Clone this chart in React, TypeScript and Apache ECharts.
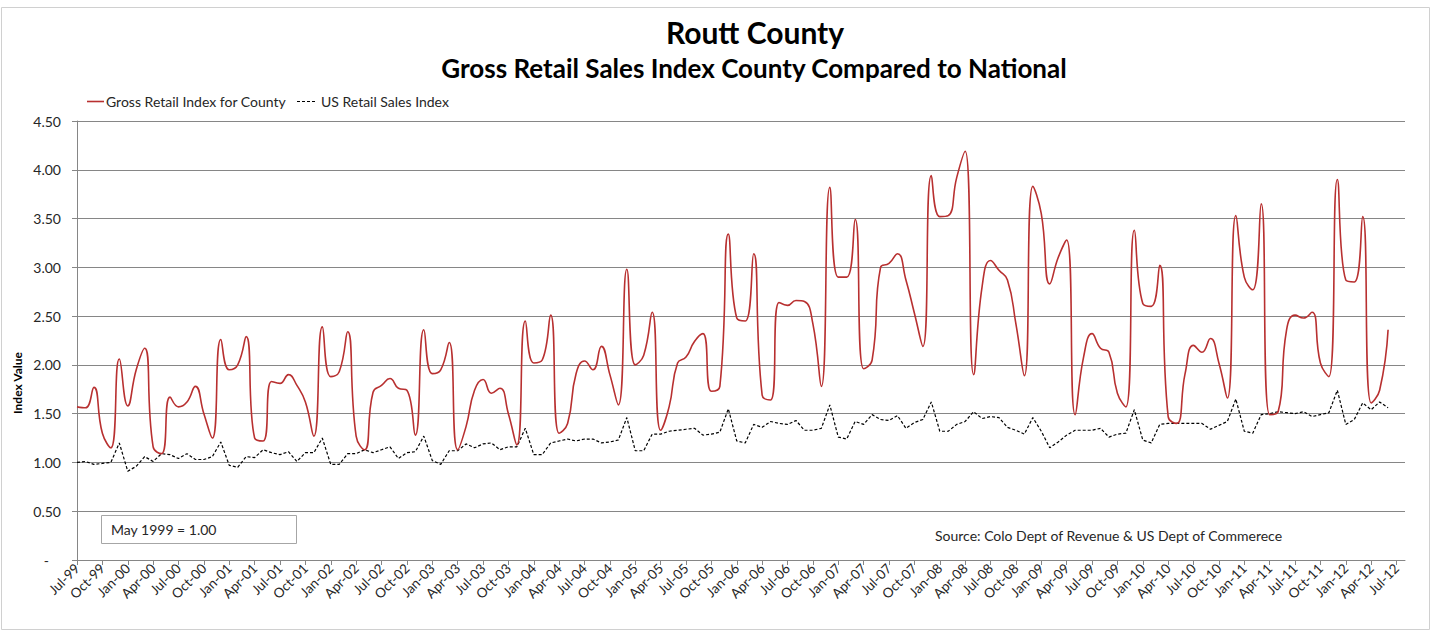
import { useEffect, useRef } from "react";
import * as echarts from "echarts";

const TITLE = "Routt County";
const SUBTITLE = "Gross Retail Sales Index County Compared to National";
const SERIES_COUNTY = "Gross Retail Index for County";
const SERIES_US = "US Retail Sales Index";
const NOTE = "May 1999 = 1.00";
const SOURCE = "Source: Colo Dept of Revenue & US Dept of Commerece";

const MONTHS = ["Jan", "Feb", "Mar", "Apr", "May", "Jun", "Jul", "Aug", "Sep", "Oct", "Nov", "Dec"];
// monthly categories Jul-99 .. Aug-12
const categories: string[] = [];
for (let k = 0; k < 158; k++) {
  const m = (6 + k) % 12;
  const y = 1999 + Math.floor((6 + k) / 12);
  categories.push(`${MONTHS[m]}-${String(y % 100).padStart(2, "0")}`);
}

const countyIndex = [
  1.57, 1.56, 1.77, 1.30, 1.15, 2.06, 1.58, 1.95, 2.17, 1.16, 1.09, 1.67,
  1.57, 1.62, 1.78, 1.50, 1.25, 2.26, 1.95, 2.00, 2.29, 1.25, 1.22, 1.83,
  1.81, 1.90, 1.79, 1.62, 1.27, 2.39, 1.88, 1.93, 2.34, 1.27, 1.13, 1.72,
  1.79, 1.86, 1.76, 1.74, 1.28, 2.36, 1.91, 1.95, 2.23, 1.13, 1.37, 1.74,
  1.85, 1.71, 1.76, 1.50, 1.18, 2.45, 2.02, 2.05, 2.51, 1.30, 1.40, 1.91,
  2.04, 1.95, 2.19, 1.90, 1.59, 2.98, 2.00, 2.10, 2.54, 1.33, 1.57, 2.02,
  2.08, 2.24, 2.32, 1.73, 1.78, 3.34, 2.48, 2.45, 3.14, 1.69, 1.64, 2.64,
  2.61, 2.66, 2.65, 2.42, 1.78, 3.82, 2.90, 2.90, 3.49, 1.96, 2.05, 3.00,
  3.04, 3.14, 2.87, 2.53, 2.19, 3.94, 3.52, 3.53, 3.92, 4.19, 1.90, 2.80,
  3.07, 2.97, 2.87, 2.42, 1.89, 3.83, 3.55, 2.83, 3.10, 3.28, 1.49, 2.08,
  2.32, 2.17, 2.13, 1.71, 1.57, 3.38, 2.63, 2.60, 3.02, 1.47, 1.40, 1.91,
  2.20, 2.13, 2.27, 2.02, 1.66, 3.53, 2.90, 2.77, 3.65, 1.49, 1.52, 2.36,
  2.51, 2.48, 2.54, 2.02, 1.88, 3.90, 2.87, 2.85, 3.52, 1.61, 1.74, 2.36,
];

const usIndex = [
  1.00, 1.01, 0.98, 0.99, 1.00, 1.20, 0.91, 0.96, 1.06, 1.01, 1.09, 1.08,
  1.04, 1.09, 1.03, 1.03, 1.06, 1.21, 0.97, 0.95, 1.06, 1.05, 1.13, 1.10,
  1.08, 1.11, 1.01, 1.10, 1.10, 1.25, 0.98, 0.98, 1.09, 1.09, 1.13, 1.10,
  1.13, 1.16, 1.04, 1.10, 1.11, 1.27, 1.02, 0.98, 1.12, 1.12, 1.19, 1.15,
  1.19, 1.20, 1.13, 1.16, 1.16, 1.35, 1.08, 1.08, 1.20, 1.22, 1.24, 1.22,
  1.24, 1.24, 1.20, 1.21, 1.23, 1.46, 1.12, 1.12, 1.29, 1.29, 1.32, 1.33,
  1.34, 1.35, 1.28, 1.29, 1.31, 1.55, 1.22, 1.20, 1.39, 1.36, 1.42, 1.40,
  1.39, 1.43, 1.33, 1.33, 1.35, 1.59, 1.26, 1.24, 1.42, 1.39, 1.49, 1.44,
  1.43, 1.48, 1.35, 1.41, 1.44, 1.62, 1.32, 1.32, 1.39, 1.42, 1.52, 1.45,
  1.47, 1.46, 1.36, 1.33, 1.29, 1.46, 1.32, 1.15, 1.21, 1.28, 1.33, 1.33,
  1.33, 1.35, 1.26, 1.29, 1.30, 1.54, 1.23, 1.20, 1.39, 1.40, 1.40, 1.40,
  1.40, 1.40, 1.34, 1.38, 1.42, 1.65, 1.32, 1.30, 1.49, 1.50, 1.52, 1.51,
  1.50, 1.52, 1.47, 1.49, 1.51, 1.74, 1.39, 1.44, 1.61, 1.54, 1.62, 1.56,
];

const Y_MIN = 0;
const Y_MAX = 4.5;
const Y_STEP = 0.5;

const FONT = "Lato, 'Open Sans', sans-serif";
const RED = "#b83030";
const TXT = "#262626";
const SMALL = 14;

export default function App() {
  const ref = useRef<HTMLDivElement>(null);

  useEffect(() => {
    if (!ref.current) return;
    const chart = echarts.init(ref.current, undefined, { renderer: "svg" });
    const every3 = (i: number) => i % 3 === 0;
    chart.setOption({
      animation: false,
      backgroundColor: "#ffffff",
      textStyle: { fontFamily: FONT },
      grid: { left: 77, right: 34, top: 121, bottom: 81, containLabel: false },
      xAxis: {
        type: "category",
        data: categories,
        boundaryGap: false,
        axisLine: { lineStyle: { color: "#868686", width: 1 } },
        axisTick: { show: true, interval: every3, length: 5, lineStyle: { color: "#868686" } },
        axisLabel: {
          interval: every3,
          rotate: 45,
          fontFamily: FONT,
          fontSize: 13.5,
          color: TXT,
          margin: 6,
        },
        splitLine: { show: false },
      },
      yAxis: {
        type: "value",
        min: Y_MIN,
        max: Y_MAX,
        interval: Y_STEP,
        axisLine: { show: true, lineStyle: { color: "#868686", width: 1 } },
        axisTick: { show: true, length: 5, lineStyle: { color: "#868686" } },
        axisLabel: {
          fontFamily: FONT,
          fontSize: SMALL,
          color: TXT,
          margin: 16,
          formatter: (v: number) => (v === 0 ? "{d|-}" : v.toFixed(2)),
          rich: { d: { fontFamily: FONT, fontSize: SMALL, color: TXT, padding: [0, 12, 0, 0] } },
        },
        splitLine: { show: true, lineStyle: { color: "#868686", width: 1 } },
      },
      graphic: [
        {
          type: "rect",
          shape: { x: 1.5, y: 7.5, width: 1428, height: 622 },
          style: { fill: "none", stroke: "#d0d0d0", lineWidth: 1 },
          silent: true,
        },
        {
          type: "text",
          x: 755,
          y: 32,
          style: { text: TITLE, fontFamily: FONT, fontSize: 30, fontWeight: "bold", fill: "#000", align: "center", verticalAlign: "middle" },
        },
        {
          type: "text",
          x: 754,
          y: 68,
          style: { text: SUBTITLE, fontFamily: FONT, fontSize: 26, fontWeight: "bold", fill: "#000", align: "center", verticalAlign: "middle" },
        },
        // legend
        {
          type: "line",
          shape: { x1: 87, y1: 101.5, x2: 104, y2: 101.5 },
          style: { stroke: RED, lineWidth: 1.6 },
        },
        {
          type: "text",
          x: 106,
          y: 101,
          style: { text: SERIES_COUNTY, fontFamily: FONT, fontSize: SMALL, fill: TXT, align: "left", verticalAlign: "middle" },
        },
        {
          type: "line",
          shape: { x1: 297, y1: 101.5, x2: 317, y2: 101.5 },
          style: { stroke: "#000", lineWidth: 1.2, lineDash: [3, 2] },
        },
        {
          type: "text",
          x: 321,
          y: 101,
          style: { text: SERIES_US, fontFamily: FONT, fontSize: SMALL, fill: TXT, align: "left", verticalAlign: "middle" },
        },
        {
          type: "text",
          x: 17,
          y: 383,
          rotation: Math.PI / 2,
          style: { text: "Index Value", fontFamily: FONT, fontSize: 12, fontWeight: "bold", fill: "#000", align: "center", verticalAlign: "middle" },
        },
        {
          type: "rect",
          shape: { x: 101.5, y: 515.5, width: 195, height: 28 },
          style: { fill: "#ffffff", stroke: "#a6a6a6", lineWidth: 1 },
        },
        {
          type: "text",
          x: 111,
          y: 529,
          style: { text: NOTE, fontFamily: FONT, fontSize: SMALL, fill: TXT, align: "left", verticalAlign: "middle" },
        },
        {
          type: "text",
          x: 935,
          y: 535,
          style: { text: SOURCE, fontFamily: FONT, fontSize: SMALL, fill: TXT, align: "left", verticalAlign: "middle" },
        },
      ],
      series: [
        {
          name: SERIES_COUNTY,
          type: "line",
          data: countyIndex,
          smooth: 0.5,
          showSymbol: false,
          symbol: "none",
          lineStyle: { color: RED, width: 1.6 },
          itemStyle: { color: RED },
          z: 3,
        },
        {
          name: SERIES_US,
          type: "line",
          data: usIndex,
          smooth: false,
          showSymbol: false,
          symbol: "none",
          lineStyle: { color: "#000000", width: 1.2, type: [3, 2] },
          itemStyle: { color: "#000000" },
          z: 2,
        },
      ],
    });
    return () => chart.dispose();
  }, []);

  return (
    <div
      ref={ref}
      style={{ position: "absolute", left: 0, top: 0, width: 1439, height: 641 }}
    />
  );
}
